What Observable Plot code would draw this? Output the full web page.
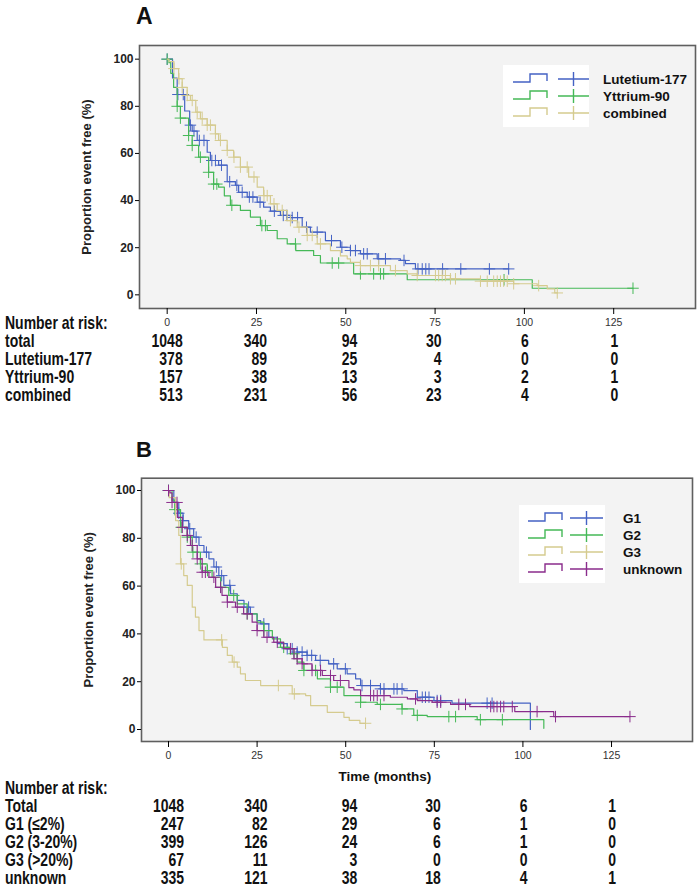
<!DOCTYPE html>
<html><head><meta charset="utf-8">
<script src="https://cdn.jsdelivr.net/npm/d3@7"></script>
<script src="https://cdn.jsdelivr.net/npm/@observablehq/plot@0.6"></script>
<style>
body{margin:0;background:#fff;}
#wrap{position:relative;width:700px;height:889px;overflow:hidden;background:#fff;font-family:"Liberation Sans",Arial,sans-serif;}
#wrap svg{position:absolute;left:0;}
</style></head><body><div id="wrap"></div>
<script>
// ---------- data ----------
const timeTicks = [0, 25, 50, 75, 100, 125];
const yTicks = [0, 20, 40, 60, 80, 100];

// Panel A
const lutT = [0,1.5,2.8,4.9,6.3,7.0,8.4,11.2,12.1,14.4,16.8,19.1,20.0,22.4,25.2,27.0,28.9,31.7,34.5,37.8,40.1,44.3,48.5,51.3,54.1,58.8,65.3,66.7,69.5];
const lutS = [100,92,85,78,72,69.5,65.5,60.5,57,55,48,46.5,43.5,41.5,39.3,37.2,35.5,33.7,32.8,28.7,26.6,23,20.2,18.8,17.4,15.3,14.6,13.2,11];
const lutEnd = 95.6;
const lutCens = [0,3.0,4.5,6.5,7.5,9.0,10.3,12.5,13.5,15.2,17.5,19.5,21.0,23.0,24.0,26.0,30.0,32.5,33.5,35.0,36.5,39.0,42.0,46.0,48.9,51.3,52.7,55.0,56.0,59.2,61.1,66.3,70.2,71.4,72.4,73.3,77.1,82.2,90.2,95.6];

const yttT = [0,0.5,1.0,1.8,2.8,3.7,6.0,7.0,8.8,11.6,13.0,14.4,16.0,17.7,20.5,23.3,26.1,28.0,30.8,33.6,36.0,41.0,42.9,52.2,67.2,102.2];
const yttS = [100,98.5,94,88,80,75,67.6,63.4,58.4,52,47,45.7,42,38,35.8,33,29.4,27.3,23.8,21.6,18.8,16.7,13.5,8.9,6.4,2.8];
const yttEnd = 130.4;
const yttCens = [0,2.8,3.7,6.0,7.0,9.3,11.6,13.0,13.9,18.1,26.5,27.5,35.9,46.2,48.0,54.1,57.8,59.7,60.6,94.3,130.4];

const comT = [0,0.5,1.9,3.2,4.2,5.6,6.5,8.0,9.3,11.2,13.5,14.4,16.8,18.6,20.5,22.8,25.2,27.0,28.9,30.8,33.6,36.4,39.2,42.0,45.7,48.5,50.4,51.3,54.1,62.5,67.2,70.0,79.3,87.7,97.0,103.6,106.4,108.5];
const comS = [100,99,96,91.7,88,84.6,82.5,77.5,74.7,72,68.3,65.5,61.3,58.4,54.2,50,45.7,42.1,38.6,35.8,31.5,28.7,25.2,21.6,18.8,16.5,15.3,13.8,12.4,10.3,8.9,8.2,6.8,5.8,4.7,3.9,2.5,0.8];
const comEnd = 109.2;
const comCens = [1.9,3.3,4.2,5.6,7.0,8.4,9.8,11.2,12.1,13.5,14.9,16.8,18.7,20.5,22.4,24.3,27.1,28.0,29.9,32.2,34.5,36.9,39.2,40.6,42.9,54.1,56.9,59.2,63.9,70.0,75.1,76.0,77.0,77.9,79.3,80.7,87.7,89.6,91.4,92.4,93.3,94.2,95.2,97.0,104.0,109.2];

const riskRowsA = ["total", "Lutetium-177", "Yttrium-90", "combined"];
const riskA = [
  [1048, 340, 94, 30, 6, 1],
  [378, 89, 25, 4, 0, 0],
  [157, 38, 13, 3, 2, 1],
  [513, 231, 56, 23, 4, 0]
];
const legendA = ["Lutetium-177", "Yttrium-90", "combined"];

// Panel B
const g1T = [0,1.5,2.9,4.1,5.7,7.1,8.6,10.0,11.4,12.8,14.2,15.6,17.5,19.4,21.3,23.1,25.0,26.0,28.3,30.7,33.5,36.3,39.1,41.5,45.2,47.6,50.4,52.8,54.2,59.8,66.4,70.2,74.9,80.0,102.1];
const g1S = [100,95,90.5,87.4,84,80.5,77,74.2,71.4,68,64.4,60.3,56.8,54,51.2,48.4,45.6,44.2,38.6,35.9,33.8,32.4,31,28.9,27.5,25.4,23.3,21.2,18.4,17,16.3,13.5,12.1,11,0];
const g1End = 102.1;
const g1Cens = [0,2.9,4.1,6.0,7.8,10.7,13.5,15.0,17.3,22.6,26.9,33.5,34.9,36.3,37.7,39.1,40.4,42.8,46.6,49.9,54.6,57.0,59.8,60.8,63.6,64.5,65.9,71.6,72.5,73.5,75.8,76.8,89.9,91.3];

const g2T = [0,1.0,1.8,3.4,5.3,6.7,9.0,10.9,12.3,14.7,17.0,19.4,22.2,25.0,26.9,29.3,31.6,34.4,36.3,38.2,42.0,45.7,49.5,54.2,58.9,65.9,69.2,73.0,87.1,105.9];
const g2S = [100,96,92,84.6,80.5,74.2,69.3,66.5,63.7,59.5,56.1,52.6,48.4,44.9,41.4,37.9,34.4,31.7,28.2,24.7,21.2,17.7,14.2,11.4,10.5,8.6,5.9,5.4,4.1,0.5];
const g2End = 105.9;
const g2Cens = [0,1.8,3.6,5.3,6.9,9.0,11.0,14.7,18.4,22.2,26.9,32.5,35.4,38.2,41.5,45.7,47.6,54.2,59.8,65.9,70.2,79.1,81.0,88.0,94.2];

const g3T = [0,0.2,2.0,2.9,3.4,4.3,5.3,6.7,7.6,8.6,10.0,15.2,16.6,18.0,19.4,20.3,21.7,26.0,34.9,38.7,40.1,44.8,49.5,51.0,54.0];
const g3S = [100,97,87.4,81.2,69.3,64.4,60.3,51.2,47,41.4,37.5,34.4,31,28.2,26.1,23.3,20.5,18.4,14.9,14.2,10,7.2,5.1,3.8,2.6];
const g3End = 55.6;
const g3Cens = [3.6,15.0,18.5,31.0,35.5,55.6];

const unkT = [0,0.4,1.0,2.5,3.9,5.3,6.2,8.1,9.5,11.4,13.3,15.1,16.6,18.9,21.2,23.6,25.0,26.9,29.7,32.5,35.4,37.7,40.5,43.4,46.6,50.9,52.3,54.2,62.6,67.4,70.2,74.4,79.6,85.0,97.7,108.7];
const unkS = [100,99,95,88.8,84.6,81.2,77,71.4,65.8,63.7,59.5,56.1,53.3,51.2,48.4,44.9,41.4,38.6,36.5,33.8,29.6,27.5,24.7,22.6,20.5,17.5,16.6,14.2,13.5,12.8,12.1,11.4,10.5,9.6,7.5,5.4];
const unkEnd = 130.2;
const unkCens = [0,1.0,2.4,3.9,5.3,6.7,8.1,9.5,10.4,12.8,14.7,16.6,19.4,22.2,25.0,27.8,30.7,34.4,36.3,37.7,40.5,42.9,45.7,48.5,57.0,57.9,58.9,60.8,69.7,75.8,76.8,81.9,83.8,90.9,91.8,92.7,93.7,94.6,97.0,104.0,109.2,130.2];

const riskRowsB = ["Total", "G1 (≤2%)", "G2 (3-20%)", "G3 (>20%)", "unknown"];
const riskB = [
  [1048, 340, 94, 30, 6, 1],
  [247, 82, 29, 6, 1, 0],
  [399, 126, 24, 6, 1, 0],
  [67, 11, 3, 0, 0, 0],
  [335, 121, 38, 18, 4, 1]
];
const legendB = ["G1", "G2", "G3", "unknown"];

// ---------- styles ----------
const BLUE = "#4462c4", GREEN = "#45b957", TAN = "#d5cb8f", PURPLE = "#8a2c8c";
const seriesA = [
  {t: lutT, s: lutS, end: lutEnd, cens: lutCens, color: BLUE},
  {t: yttT, s: yttS, end: yttEnd, cens: yttCens, color: GREEN},
  {t: comT, s: comS, end: comEnd, cens: comCens, color: TAN}
];
const seriesB = [
  {t: g1T, s: g1S, end: g1End, cens: g1Cens, color: BLUE},
  {t: g2T, s: g2S, end: g2End, cens: g2Cens, color: GREEN},
  {t: g3T, s: g3S, end: g3End, cens: g3Cens, color: TAN},
  {t: unkT, s: unkS, end: unkEnd, cens: unkCens, color: PURPLE}
];

function kmMarks(series) {
  const marks = [];
  for (const sr of series) {
    const pts = sr.t.map((t, i) => ({t, s: sr.s[i]}));
    pts.push({t: sr.end, s: sr.s[sr.s.length - 1]});
    marks.push(Plot.line(pts, {x: "t", y: "s", curve: "step-after", stroke: sr.color, strokeWidth: 1.2}));
    const cz = sr.cens.map(t => ({t, s: sr.s[Math.max(0, d3.bisectRight(sr.t, t) - 1)]}));
    marks.push(Plot.dot(cz, {x: "t", y: "s", symbol: "plus", r: 3.8, stroke: sr.color, strokeWidth: 1}));
  }
  return marks;
}

function makePlot(series, o) {
  return Plot.plot({
    width: 700, height: o.height,
    marginTop: o.mt, marginBottom: o.mb, marginLeft: o.ml, marginRight: o.mr,
    x: {domain: o.xd}, y: {domain: o.yd},
    style: {background: "transparent", overflow: "visible", fontFamily: "Liberation Sans, Arial, sans-serif"},
    marks: [
      Plot.frame({fill: "#f3f3f3"}),
      ...kmMarks(series),
      Plot.frame({stroke: "#5f5f5f", strokeWidth: 1.6}),
      Plot.axisY(yTicks, {tickSize: 4, tickPadding: 2, fontSize: 12, fontWeight: "bold", fill: "#222", label: null}),
      Plot.axisX(timeTicks, {tickSize: 6, tickPadding: 4, fontSize: 10.5, fill: "#333", label: null}),
      Plot.text(["Proportion event free (%)"], {frameAnchor: "left", rotate: -90, dx: -53, fontSize: 13, fontWeight: "bold", fill: "#222", textAnchor: "middle"})
    ]
  });
}

const wrap = document.getElementById("wrap");
const plotA = makePlot(seriesA, {height: 335, mt: 45, mb: 27, ml: 139, mr: 5, xd: [-7.75, 147.9], yd: [-5.8, 105.8]});
plotA.style.top = "0px";
wrap.appendChild(plotA);
const topB = 432;
const plotB = makePlot(seriesB, {height: 335, mt: 45.7, mb: 26, ml: 141, mr: 8, xd: [-7.62, 147.85], yd: [-5.02, 105.15]});
plotB.style.top = topB + "px";
wrap.appendChild(plotB);

// ---------- overlay: titles, legends, risk tables ----------
const ov = d3.select(wrap).append("svg").attr("width", 700).attr("height", 889).style("top", "0px");

ov.append("text").attr("x", 136).attr("y", 24).text("A")
  .attr("font-family", "Liberation Sans, Arial, sans-serif").attr("font-weight", "bold").attr("font-size", 23).attr("fill", "#111");
ov.append("text").attr("x", 136).attr("y", 457).text("B")
  .attr("font-family", "Liberation Sans, Arial, sans-serif").attr("font-weight", "bold").attr("font-size", 22).attr("fill", "#111");

function legend(names, colors, box, rows, xs) {
  ov.append("rect").attr("x", box[0]).attr("y", box[1]).attr("width", box[2]).attr("height", box[3]).attr("fill", "#fff");
  names.forEach((n, i) => {
    const y = rows[0] + i * rows[1];
    const c = colors[i];
    ov.append("path").attr("d", `M${xs[0]},${y + 3}H${xs[1]}V${y - 5}H${xs[2]}V${y + 2}`)
      .attr("fill", "none").attr("stroke", c).attr("stroke-width", 1.4);
    ov.append("path").attr("d", `M${xs[3]},${y}H${xs[4]}M${(xs[3] + xs[4]) / 2},${y - 7}V${y + 7}`)
      .attr("fill", "none").attr("stroke", c).attr("stroke-width", 1.4);
    ov.append("text").attr("x", xs[5]).attr("y", y).attr("dy", "0.36em").text(n)
      .attr("font-family", "Liberation Sans, Arial, sans-serif").attr("font-weight", "bold").attr("font-size", 13.5).attr("fill", "#111");
  });
}
legend(legendA, [BLUE, GREEN, TAN], [503, 65, 86, 62], [79, 17], [513, 530, 547, 558, 589, 603]);
legend(legendB, [BLUE, GREEN, TAN, PURPLE], [519, 505, 86, 78], [518, 17], [528, 545, 562, 570, 603, 623]);

// narrow bold text (Arial-Narrow-like), via horizontal scaling
function narrowText(x, y, str, anchor) {
  ov.append("g").attr("transform", `translate(${x},${y}) scale(0.8,1)`)
    .append("text").attr("dy", "0.36em").attr("text-anchor", anchor || "start").text(str)
    .attr("font-family", "Liberation Sans, Arial, sans-serif").attr("font-weight", "bold")
    .attr("font-size", 17.5).attr("fill", "#111");
}
const colOffset = [16, 11, 12, 7, 5, 5];
function riskTable(xScale, labels, values, headY, rowY, rowStep) {
  narrowText(5, headY, "Number at risk:");
  labels.forEach((lab, r) => {
    const y = rowY + r * rowStep;
    narrowText(5, y, lab);
    values[r].forEach((v, c) => narrowText(xScale.apply(timeTicks[c]) + colOffset[c], y, String(v), "end"));
  });
}
riskTable(plotA.scale("x"), riskRowsA, riskA, 323, 341, 18);
riskTable(plotB.scale("x"), riskRowsB, riskB, 788, 806, 18);

ov.append("text").attr("x", 385).attr("y", 776).attr("dy", "0.36em").attr("text-anchor", "middle").text("Time (months)")
  .attr("font-family", "Liberation Sans, Arial, sans-serif").attr("font-weight", "bold").attr("font-size", 13.5).attr("fill", "#111");
</script></body></html>
